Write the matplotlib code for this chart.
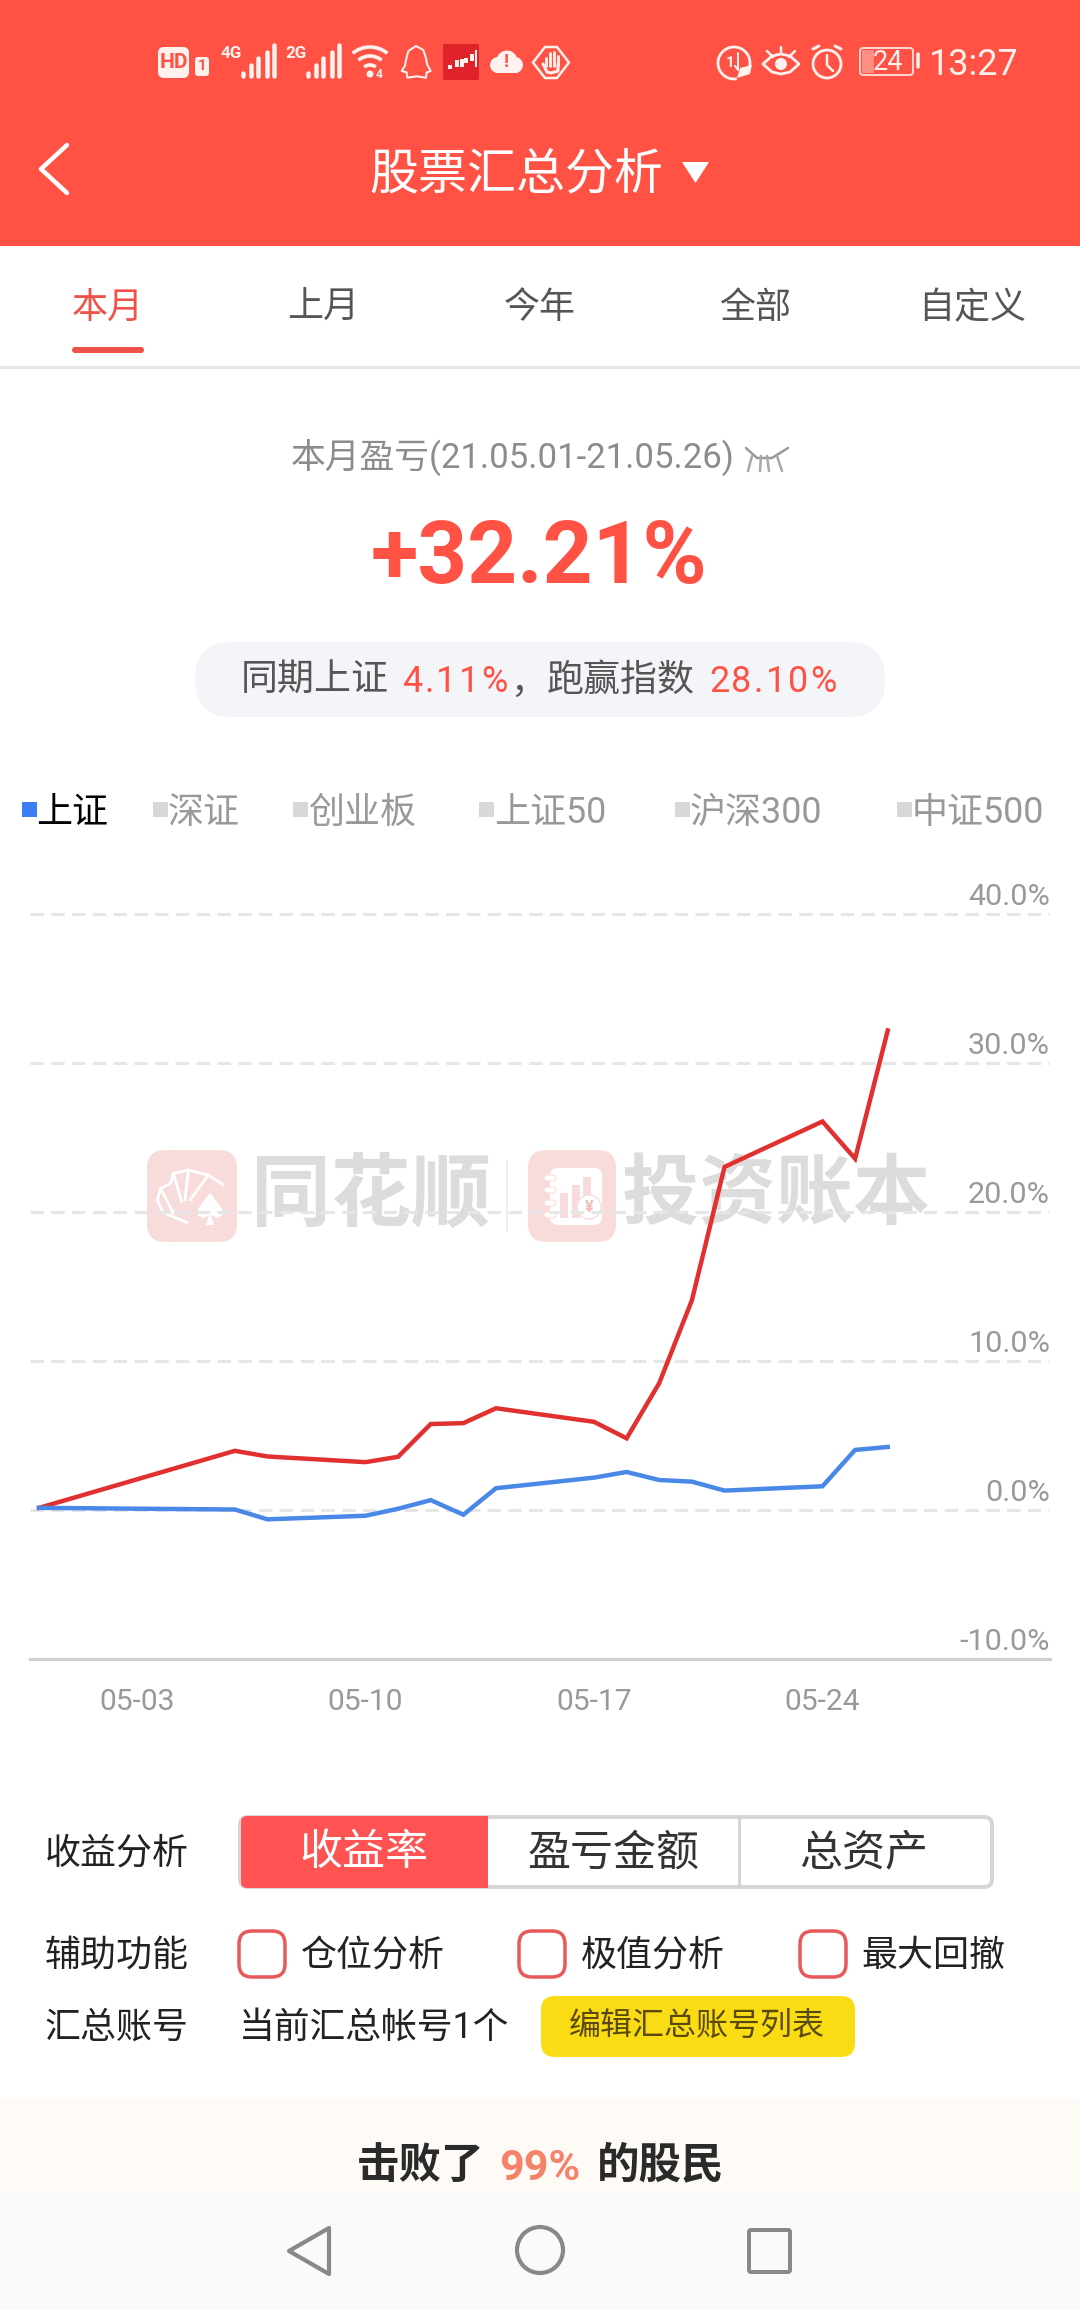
import matplotlib
matplotlib.use("Agg")
import matplotlib.pyplot as plt
import matplotlib.dates as mdates
import pandas as pd
from matplotlib.patches import FancyBboxPatch, Polygon, Circle, Ellipse, Arc, Rectangle

plt.rcParams['font.family'] = ['Roboto', 'Noto Sans CJK SC', 'DejaVu Sans']

DATES = ['2021-04-30', '2021-05-06', '2021-05-07', '2021-05-10', '2021-05-11', '2021-05-12',
         '2021-05-13', '2021-05-14', '2021-05-17', '2021-05-18', '2021-05-19', '2021-05-20',
         '2021-05-21', '2021-05-24', '2021-05-25', '2021-05-26']
ACCOUNT = [0.15, 3.98, 3.6, 3.22, 3.58, 5.78, 5.84, 6.84, 5.93, 4.82, 8.53, 14.09, 23.05, 26.1, 23.6, 32.21]
INDEX_SH = [0.15, 0.04, -0.62, -0.38, 0.09, 0.67, -0.31, 1.47, 2.18, 2.56, 2.02, 1.91, 1.31, 1.6, 4.04, 4.24]

X_TICKS = ['2021-05-03', '2021-05-10', '2021-05-17', '2021-05-24']
Y_TICKS = [-10, 0, 10, 20, 30, 40]

TABS = ['本月', '上月', '今年', '全部', '自定义']
LEGEND_NAMES = ['上证', '深证', '创业板', '上证50', '沪深300', '中证500']
SEGMENTS = ['收益率', '盈亏金额', '总资产']
OPTIONS = ['仓位分析', '极值分析', '最大回撤']

RED = '#ff5245'
GRAY = '#999999'
DARK = '#222222'
PINK = '#f8dcdc'
ICON = '#fff1ee'

W, H = 1080, 2310

fig = plt.figure(figsize=(W / 100, H / 100), dpi=100, facecolor='white')
ui = fig.add_axes([0, 0, 1, 1], zorder=0)
ui.set_xlim(0, W)
ui.set_ylim(H, 0)
ui.axis('off')


def txt(x, y, s, px, color=DARK, ha='center', weight='normal', dy=4):
    return ui.text(x, y + dy, s, fontsize=px * 0.72, color=color, ha=ha, va='center', fontweight=weight, zorder=4)


def spaced(x, y, s, px, color, gap):
    # the percentages in the pill have wider letter spacing
    for ch in s:
        txt(x, y, ch, px, color, ha='left')
        x += {'.': 0.26, '%': 0.73}.get(ch, 0.56) * px + gap


def box(x0, y0, x1, y1, r=0, fc='none', ec='none', lw=0.0, zorder=1):
    if r > 0:
        p = FancyBboxPatch((x0, y0), x1 - x0, y1 - y0, boxstyle=f'round,pad=0,rounding_size={r}',
                           fc=fc, ec=ec, lw=lw * 0.72, zorder=zorder)
    else:
        p = Rectangle((x0, y0), x1 - x0, y1 - y0, fc=fc, ec=ec, lw=lw * 0.72, zorder=zorder)
    ui.add_patch(p)
    return p


def stroke(xs, ys, color=ICON, lw=3.0, zorder=3):
    ui.plot(xs, ys, color=color, lw=lw * 0.72, solid_capstyle='round', solid_joinstyle='round', zorder=zorder)


def crop_pts(pts, x0, y0):
    return [x0 + p[0] / 3 for p in pts], [y0 + p[1] / 3 for p in pts]


def signal(x0, netName):
    txt(x0 + 8, 53, netName, 17, ICON, weight='bold', dy=0)
    for bx, top in zip([20, 28, 35, 44, 51], [73, 65, 58, 52, 45]):
        stroke([x0 + bx] * 2, [76, top], lw=4.5)


# header
box(0, 0, W, 246, fc=RED)
box(158, 47, 189, 78, r=6, fc=ICON)
txt(173.5, 62, 'HD', 21, RED, weight='bold', dy=0)
box(195, 57, 209, 76, r=3, fc=ICON)
txt(202, 66.5, '1', 15, RED, weight='bold', dy=0)
signal(223, '4G')
signal(288, '2G')
for rad, lw in [(27, 2.6), (18, 2.6), (9, 2.6)]:
    ui.add_patch(Arc((370, 74), rad * 2, rad * 2, theta1=230, theta2=310, ec=ICON, lw=lw, zorder=3))
ui.add_patch(Circle((370, 74), 3.5, fc=ICON, zorder=3))
txt(379, 74, '4', 12, ICON, weight='bold', dy=0)
qq = [(798, 33), (775, 48), (768, 75), (765, 92), (755, 108), (770, 112), (772, 128), (800, 124), (828, 128),
      (830, 112), (842, 108), (832, 90), (828, 70), (820, 45), (798, 33)]
stroke(*crop_pts(qq, 150, 35), lw=2)
box(443, 44, 479, 80, r=2, fc='#e0222a')
for cx, top, bot in [(450, 65, 69), (457, 60, 67), (462, 59, 67), (466, 58, 63), (472, 54, 61)]:
    box(cx - 2, top, cx + 2, bot, fc=ICON, zorder=2)
box(475, 50, 477, 67, fc=ICON, zorder=2)
ui.add_patch(Circle((498, 65), 8, fc=ICON, zorder=3))
ui.add_patch(Circle((515, 65), 8, fc=ICON, zorder=3))
ui.add_patch(Circle((507, 61), 10.5, fc=ICON, zorder=3))
box(494, 65, 519, 73, r=3, fc=ICON, zorder=3)
txt(506.5, 62, '!', 19, RED, weight='bold', dy=0)
ui.add_patch(Polygon([(533, 62.5), (545, 47), (557, 47), (569, 62.5), (557, 78), (545, 78)], fc='none', ec=ICON,
                     lw=1.8, zorder=3))
for fx, ftop in [(546, 58), (550, 53), (554, 52), (558, 56)]:
    stroke([fx, fx], [ftop, 66], lw=2.8)
stroke([543, 547, 551, 558, 558], [64, 72, 73, 71, 64], lw=3)

ui.add_patch(Arc((734, 63), 32, 32, theta1=80, theta2=20, ec=ICON, lw=2, zorder=3))
txt(730, 63, '1', 15, ICON, weight='bold', dy=0)
stroke([738, 738, 735], [53, 70, 66], lw=2)
ui.add_patch(Polygon([(737, 78), (740, 68), (752, 65), (750, 74)], fc=ICON, zorder=3))
ui.add_patch(Polygon([(763, 64), (772, 56), (781, 54), (790, 56), (799, 64), (790, 72), (781, 74), (772, 72)],
                     fc='none', ec=ICON, lw=2, joinstyle='round', zorder=3))
ui.add_patch(Circle((781, 64), 6, fc=ICON, zorder=3))
stroke([781, 781], [47, 53], lw=2.5)
stroke([767, 773], [51, 57], lw=2.5)
stroke([795, 789], [51, 57], lw=2.5)
ui.add_patch(Circle((827, 64), 14, fc='none', ec=ICON, lw=2, zorder=3))
stroke([827, 827, 833], [55, 65, 71], lw=2.5)
stroke([813, 819], [49, 46], lw=3)
stroke([835, 841], [46, 49], lw=3)
box(860, 48, 913, 75, r=3, ec='#ffd4cf', lw=2)
box(862, 50, 874, 73, fc='#ff8f85')
stroke([918, 918], [54, 67], lw=3.5)
txt(888, 62, '24', 27, ICON, dy=1)
txt(1019, 63, '13:27', 36, ICON, ha='right', dy=2)

stroke([67, 41, 67], [145, 169, 193], color='white', lw=4.5)
txt(516, 172, '股票汇总分析', 49, 'white', dy=3)
ui.add_patch(Polygon([(682, 162), (709, 162), (695.5, 183)], fc='white', zorder=3))

# tabs
for name, cx, col in zip(TABS, [108, 323, 540, 755, 972], ['#f0524a'] + ['#555555'] * 4):
    txt(cx, 304, name, 36, col)
box(72, 347, 144, 353, r=3, fc='#f0524a')
box(0, 366, W, 369, fc='#e6e6e6')

# summary
txt(513, 457, '本月盈亏(21.05.01-21.05.26)', 34.8, '#8c8c8c', dy=1)
stroke([746, 757, 772, 788], [448, 458, 458, 448], '#9a9a9a', lw=2.5)
for sx, ex in [(752, 748), (761, 760), (767, 769), (777, 782)]:
    stroke([sx, ex], [456, 471], '#a8a8a8', lw=2.5)
txt(539, 553, '+32.21%', 87, RED, weight='bold', dy=6)
box(195, 642, 885, 717, r=37, fc='#f4f5f9')
txt(241, 678, '同期上证', 37, '#555555', ha='left', dy=3)
spaced(402, 678, '4.11%', 36, RED, 2.3)
txt(510, 680, '，', 36, '#555555', ha='left', dy=3)
txt(547, 678, '跑赢指数', 37, '#555555', ha='left', dy=3)
spaced(709, 678, '28.10%', 36, RED, 2.3)

# legend row
for i, (name, sq, tx) in enumerate(zip(LEGEND_NAMES, [22, 153, 293, 479, 675, 897], [36.5, 168, 308, 494, 690, 912])):
    box(sq, 802, sq + 15, 817, fc='#3c7ff5' if i == 0 else '#d8d8d8')
    txt(tx, 809, name, 36, 'black' if i == 0 else GRAY, ha='left')

# watermark behind the chart
box(147, 1150, 237, 1242, r=18, fc=PINK)
box(528, 1150, 616, 1242, r=18, fc=PINK)
for card in [[(140, 247), (70, 218), (52, 180), (62, 145), (100, 220)],
             [(62, 145), (92, 130), (100, 100), (125, 185)],
             [(100, 100), (145, 90), (135, 180)],
             [(145, 90), (205, 105), (150, 180)],
             [(205, 105), (250, 135)]]:
    stroke(*crop_pts(card, 140, 1140), color='white', lw=2.8, zorder=2)
spade = [(210, 158), (245, 205), (248, 225), (232, 235), (213, 225), (222, 255), (198, 255), (207, 225), (190, 235),
         (172, 225), (175, 205)]
ui.add_patch(Polygon(list(zip(*crop_pts(spade, 140, 1140))), fc='white', zorder=2))
box(550, 1168, 602, 1225, r=8, fc='white', zorder=2)
for ry in [1178, 1190, 1203, 1215]:
    box(544, ry - 3, 556, ry + 3, r=3, fc='white', ec=PINK, lw=1, zorder=2)
for bx, bt in [(560, 1193), (572, 1185), (583, 1177)]:
    box(bx, bt, bx + 8, 1218, fc=PINK, zorder=2)
ui.add_patch(Circle((589, 1207), 12, fc='white', ec=PINK, lw=1, zorder=3))
txt(589, 1207, '¥', 16, '#f0bcbc', weight='bold', dy=0)
txt(251, 1197, '同花顺', 80, '#dcdcdc', ha='left', weight='bold', dy=0).set_zorder(1)
box(506, 1160, 508, 1232, fc='#eeeeee')
txt(622, 1197, '投资账本', 77, '#dcdcdc', ha='left', weight='bold', dy=0).set_zorder(1)

# controls
txt(45, 1850, '收益分析', 36, DARK, ha='left')
box(240, 1817, 992, 1887, r=8, fc='white', ec='#d5d5d5', lw=4)
box(241, 1816, 488, 1888, r=6, fc='#ff5252', zorder=2)
box(470, 1816, 488, 1888, fc='#ff5252', zorder=2)
box(737.5, 1818, 740.5, 1886, fc='#d5d5d5')
for name, cx, col in zip(SEGMENTS, [364, 614, 864], ['white', '#333333', '#333333']):
    txt(cx, 1850, name, 43, col)

txt(45, 1952, '辅助功能', 36, DARK, ha='left')
for name, bx, tx in zip(OPTIONS, [239, 519, 800], [300.5, 580.5, 861.5]):
    box(bx, 1931, bx + 46, 1977, r=13, fc='white', ec='#e85a5a', lw=3.5)
    txt(tx, 1952, name, 36, DARK, ha='left')

txt(45, 2024, '汇总账号', 36, DARK, ha='left')
txt(238.5, 2024, '当前汇总帐号1个', 35.8, DARK, ha='left')
box(541, 1996, 855, 2057, r=14, fc='#fadc14')
txt(697, 2024, '编辑汇总账号列表', 32, '#5a4a10', dy=3)

# bottom band and nav bar
box(0, 2098, W, 2192, fc='#fefaf5')
box(0, 2192, W, H, fc='#fafafa')
txt(357, 2162, '击败了', 42.5, '#2a2a2a', ha='left', weight='bold')
txt(499, 2164, '99%', 43, '#f5836a', ha='left', weight='bold')
txt(597, 2162, '的股民', 42.5, '#2a2a2a', ha='left', weight='bold')
ui.add_patch(Polygon([(329, 2228), (329, 2274), (289, 2251)], fc='none', ec='#888888', lw=3, joinstyle='round', zorder=3))
ui.add_patch(Circle((540, 2250), 23, fc='none', ec='#888888', lw=3, zorder=3))
box(749, 2230, 790, 2272, r=2, ec='#888888', lw=4, zorder=3)

# chart
ax = fig.add_axes([30 / W, (H - 1659) / H, 1020 / W, (1659 - 899.6) / H], zorder=2)
ax.patch.set_visible(False)

dates = pd.to_datetime(DATES)
ax.plot(dates, ACCOUNT, color='#e0302f', lw=3.2, solid_joinstyle='miter', zorder=3)
ax.plot(dates, INDEX_SH, color='#4a88e8', lw=3.2, solid_joinstyle='miter', zorder=4)

ax.set_xlim(dates[0] - pd.Timedelta(days=0.276), dates[0] + pd.Timedelta(days=30.97))
ax.set_ylim(-10, 41)
ax.set_xticks(pd.to_datetime(X_TICKS))
ax.xaxis.set_major_formatter(mdates.DateFormatter('%m-%d'))
ax.yaxis.tick_right()
ax.set_yticks(Y_TICKS)
ax.set_yticklabels([f'{v:.1f}%' for v in Y_TICKS])
ax.tick_params(axis='x', length=0, labelsize=30 * 0.72, labelcolor=GRAY, pad=21)
ax.tick_params(axis='y', length=0, labelsize=30.5 * 0.72, labelcolor=GRAY, pad=0)
offset = matplotlib.transforms.Affine2D().translate(0, 3)
for lab in ax.get_yticklabels():
    lab.set_ha('right')
    lab.set_va('bottom')
    lab.set_transform(lab.get_transform() + offset)

ax.yaxis.grid(True, color='#e6e6e6', lw=2.2, linestyle=(0, (4.4, 2.4)), zorder=1)
for side in ['top', 'left', 'right']:
    ax.spines[side].set_visible(False)
ax.spines['bottom'].set_color('#d0d0d0')
ax.spines['bottom'].set_linewidth(2.2)

fig.savefig('out.png', dpi=100)
